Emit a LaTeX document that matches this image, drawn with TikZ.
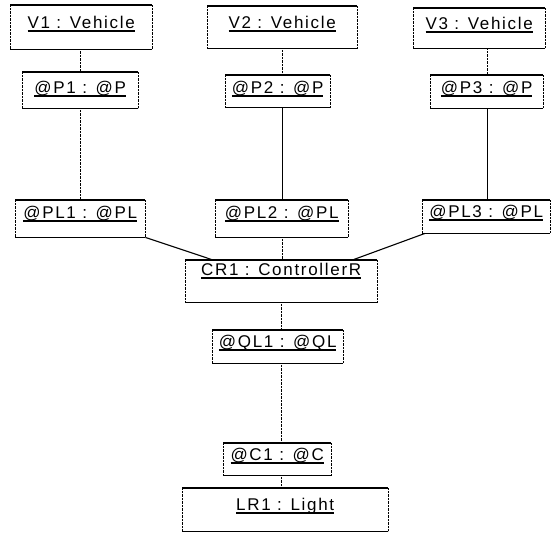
\documentclass[tikz,border=0pt]{standalone}
\usepackage{fontspec}
\setmainfont[LetterSpace=10]{Liberation Sans}
\usetikzlibrary{positioning,calc}
% underlined object name
\newcommand\objname[1]{\setbox0\hbox{#1}\rlap{\rule[-3.5pt]{\wd0}{1.4pt}}\box0}

\begin{document}
\begin{tikzpicture}[
  x=1pt,y=-1pt,
  obj/.style={anchor=north west,inner xsep=0pt,inner ysep=0pt,font=\fontsize{17}{20}\selectfont},
  rim/.style={line width=1.5pt},
  side/.style={thin,densely dotted},
  link/.style={thin,densely dotted},
  plain/.style={thin},
  bond/.style={line width=1.1pt}]
\useasboundingbox (0,0) rectangle (552,533);
\node[obj,minimum width=142pt,text height=23pt,text depth=21pt] (V1) at (10,5) {\objname{V1 : Vehicle}};
\node[obj,minimum width=150pt,text height=22pt,text depth=20pt] (V2) at (207,6) {\objname{V2 : Vehicle}};
\node[obj,minimum width=132pt,text height=21pt,text depth=19pt] (V3) at (413,8) {\objname{V3 : Vehicle}};
\node[obj,minimum width=116pt,text height=21pt,text depth=15pt] (P1) at (22,72) {\objname{@P1 : @P}};
\node[obj,minimum width=105pt,text height=18pt,text depth=14pt] (P2) at (225,75) {\objname{@P2 : @P}};
\node[obj,minimum width=113pt,text height=18pt,text depth=15pt] (P3) at (430,75) {\objname{@P3 : @P}};
\node[obj,minimum width=130pt,text height=18pt,text depth=19pt] (PL1) at (15,200) {\objname{@PL1 : @PL}};
\node[obj,minimum width=133pt,text height=18pt,text depth=19pt] (PL2) at (215,200) {\objname{@PL2 : @PL}};
\node[obj,minimum width=128pt,text height=17pt,text depth=16pt] (PL3) at (422,200) {\objname{@PL3 : @PL}};
\node[obj,minimum width=192pt,text height=15pt,text depth=27pt] (CR1) at (185,260) {\objname{CR1 : ControllerR}};
\node[obj,minimum width=131pt,text height=17pt,text depth=16pt] (QL1) at (212,330) {\objname{@QL1 : @QL}};
\node[obj,minimum width=108pt,text height=17pt,text depth=15pt] (C1) at (223,443) {\objname{@C1 : @C}};
\node[obj,minimum width=206pt,text height=22pt,text depth=21pt] (LR1) at (182,488) {\objname{LR1 : Light}};
% box outlines: solid top and bottom, dotted sides
\foreach \n in {V1,V2,V3,P1,P2,P3,PL1,PL2,PL3,CR1,QL1,C1,LR1} {
  \draw[rim] (\n.north west) -- (\n.north east);
  \draw[rim] (\n.south west) -- (\n.south east);
  \draw[side] (\n.north west) -- (\n.south west);
  \draw[side] (\n.north east) -- (\n.south east);
}
% links
\draw[link] (P1.north) -- (P1.north |- V1.south);
\draw[link] (P1.south) -- (P1.south |- PL1.north);
\draw[link] (V2.south) -- (V2.south |- P2.north);
\draw[plain] (V2.south |- P2.south) -- (V2.south |- PL2.north);
\draw[link] (PL2.south) -- (PL2.south |- CR1.north);
\draw[link] (P3.north) -- (P3.north |- V3.south);
\draw[plain] (P3.south) -- (P3.south |- PL3.north);
\draw[bond] (PL1.south east) -- ([xshift=28pt]CR1.north west);
\draw[bond] ([xshift=3pt]PL3.south west) -- ([xshift=-25pt]CR1.north east);
\draw[link] (CR1.south) -- (CR1.south |- QL1.north);
\draw[link] (CR1.south |- QL1.south) -- (CR1.south |- C1.north);
\draw[link] (CR1.south |- C1.south) -- (CR1.south |- LR1.north);
\end{tikzpicture}
\end{document}
